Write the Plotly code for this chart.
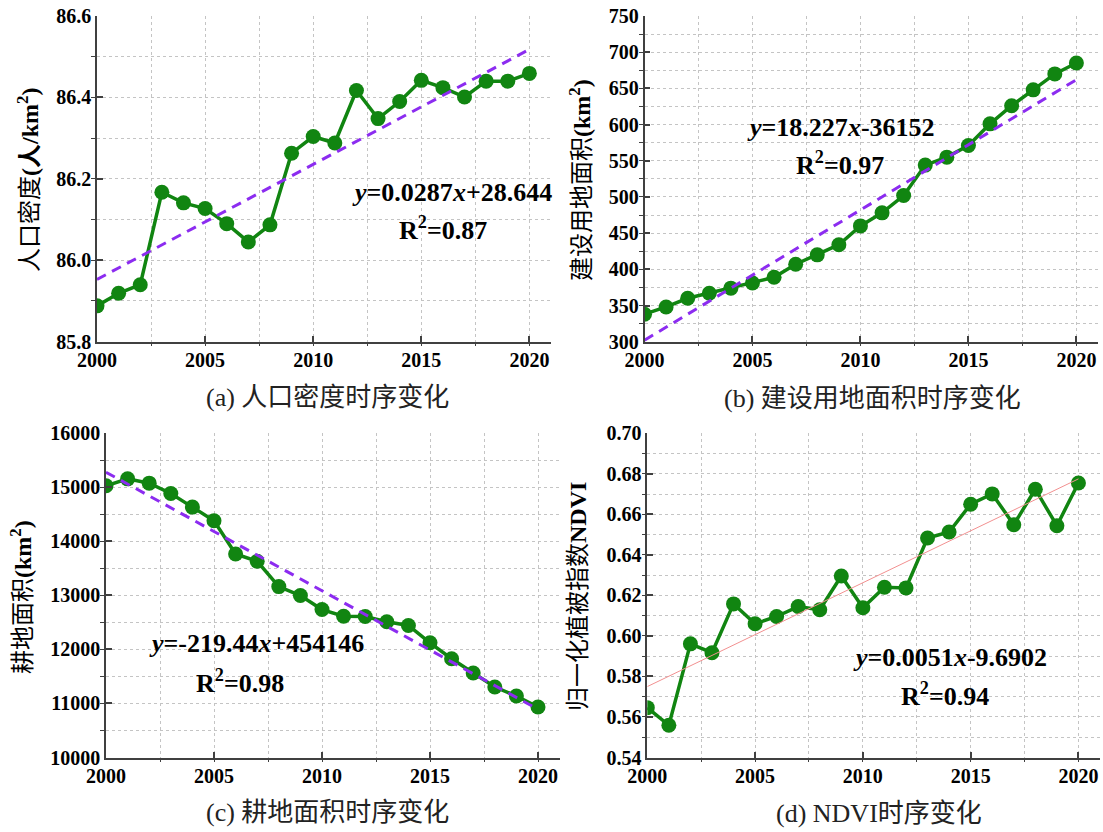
import plotly.graph_objects as go

W, H = 1103, 832

years = [2000, 2001, 2002, 2003, 2004, 2005, 2006, 2007, 2008, 2009, 2010,
         2011, 2012, 2013, 2014, 2015, 2016, 2017, 2018, 2019, 2020]
pop_density = [85.888, 85.919, 85.940, 86.167, 86.141, 86.127, 86.090, 86.045, 86.087, 86.263, 86.304,
               86.288, 86.417, 86.348, 86.390, 86.442, 86.424, 86.401, 86.440, 86.440, 86.459]
built_area = [338, 348, 360, 367, 374, 381, 389, 407, 420, 434, 460,
              478, 502, 544, 555, 571, 601, 626, 648, 670, 685]
farmland = [15028, 15157, 15077, 14886, 14634, 14382, 13766, 13631, 13163, 12997, 12738,
            12615, 12610, 12511, 12443, 12123, 11828, 11563, 11305, 11138, 10935]
ndvi = [0.5646, 0.5559, 0.5961, 0.5917, 0.6158, 0.6060, 0.6096, 0.6145, 0.6129, 0.6296, 0.6139,
        0.6240, 0.6237, 0.6483, 0.6513, 0.6650, 0.6701, 0.6549, 0.6724, 0.6544, 0.6755]

trend_years = [2000, 2020]
trend_pop = [85.953, 86.518]
trend_built = [302, 662]
trend_farm = [15280, 10892]
trend_ndvi = [0.575, 0.6775]

x_ticks = [2000, 2005, 2010, 2015, 2020]

y_titles = ["人口密度<b>(人/km<sup>2</sup>)</b>",
            "建设用地面积<b>(km<sup>2</sup>)</b>",
            "耕地面积<b>(km<sup>2</sup>)</b>",
            "归一化植被指数<b>NDVI</b>"]
captions = ["(a) 人口密度时序变化", "(b) 建设用地面积时序变化",
            "(c) 耕地面积时序变化", "(d) NDVI时序变化"]
equations = ["<b><i>y</i>=0.0287<i>x</i>+28.644</b>",
             "<b><i>y</i>=18.227<i>x</i>-36152</b>",
             "<b><i>y</i>=-219.44<i>x</i>+454146</b>",
             "<b><i>y</i>=0.0051<i>x</i>-9.6902</b>"]
r2_texts = ["<b>R<sup>2</sup>=0.87</b>", "<b>R<sup>2</sup>=0.97</b>",
            "<b>R<sup>2</sup>=0.98</b>", "<b>R<sup>2</sup>=0.94</b>"]

series = [pop_density, built_area, farmland, ndvi]
trends = [trend_pop, trend_built, trend_farm, trend_ndvi]

# layout (pixels in the 1103x832 window)
x_px = [(97, 551), (644.5, 1098), (106, 559.6), (647.3, 1100)]
y_px = [(16, 341.7), (16, 341.7), (433.3, 757.5), (433.3, 757.5)]
y_ranges = [(85.8, 86.6), (300, 750), (10000, 16000), (0.54, 0.70)]
y_dticks = [0.2, 50, 1000, 0.02]
y_formats = [".1f", "d", "d", ".2f"]
ytitle_pos = [(28, 180), (580, 180), (21, 597), (578, 597)]
caption_pos = [(327, 397), (872, 398), (327, 812), (879, 813)]
eq_pos = [(452, 192), (841, 127), (256, 643), (950, 657)]
r2_pos = [(443, 229), (840, 164), (240, 681), (945, 694)]

GREEN = "#118511"
PURPLE = "#8c2cf0"
AX = "#404040"
GRID = "#c4c4c4"
SERIF = "Liberation Serif, Noto Sans CJK SC"

def px(x):
    return x / W

def py(y):
    return 1 - y / H

fig = go.Figure()
layout = dict(width=W, height=H, margin=dict(l=0, r=0, t=0, b=0, pad=0),
              paper_bgcolor="white", plot_bgcolor="white", showlegend=False)
annotations = []

for i in range(4):
    k = "" if i == 0 else str(i + 1)
    xa, ya = "x" + k, "y" + k
    fig.add_trace(go.Scatter(x=years, y=series[i], mode="lines+markers",
                             line=dict(color=GREEN, width=3.5),
                             marker=dict(color=GREEN, size=15),
                             xaxis=xa, yaxis=ya))
    if i == 3:
        tl = dict(color="#f29090", width=1)
    else:
        tl = dict(color=PURPLE, width=3, dash="10px,7px")
    fig.add_trace(go.Scatter(x=trend_years, y=trends[i], mode="lines",
                             line=tl, xaxis=xa, yaxis=ya))

    common = dict(showline=True, linecolor=AX, linewidth=1.5, zeroline=False,
                  automargin=False,
                  showgrid=True, gridcolor=GRID, griddash="dot", gridwidth=1,
                  ticks="inside", ticklen=6, tickwidth=1.5, tickcolor=AX,
                  tickfont=dict(family="Liberation Serif", size=20, color="black", weight="bold"))
    layout["xaxis" + k] = dict(common, domain=[px(x_px[i][0]), px(x_px[i][1])],
                               anchor=ya, range=[2000, 2021], tickvals=x_ticks,
                               minor=dict(dtick=2.5, tick0=2000, showgrid=True, gridcolor=GRID,
                                          griddash="dot", ticks="outside", ticklen=3,
                                          tickcolor=AX, tickwidth=1.2))
    lo, hi = y_ranges[i]
    layout["yaxis" + k] = dict(common, domain=[py(y_px[i][1]), py(y_px[i][0])],
                               anchor=xa, range=[lo, hi], dtick=y_dticks[i], tick0=lo,
                               tickformat=y_formats[i],
                               minor=dict(dtick=y_dticks[i] / 2, tick0=lo, showgrid=True,
                                          gridcolor=GRID, griddash="dot", ticks="outside",
                                          ticklen=4, tickcolor=AX, tickwidth=1.2))

    annotations.append(dict(text=y_titles[i], x=px(ytitle_pos[i][0]), y=py(ytitle_pos[i][1]),
                            xref="paper", yref="paper", showarrow=False, textangle=-90,
                            xanchor="center", yanchor="middle",
                            font=dict(family=SERIF, size=24, color="black")))
    annotations.append(dict(text=captions[i], x=px(caption_pos[i][0]), y=py(caption_pos[i][1]),
                            xref="paper", yref="paper", showarrow=False,
                            xanchor="center", yanchor="middle",
                            font=dict(family=SERIF, size=26, color="#222222")))
    annotations.append(dict(text=equations[i], x=px(eq_pos[i][0]), y=py(eq_pos[i][1]),
                            xref="paper", yref="paper", showarrow=False,
                            xanchor="center", yanchor="middle",
                            font=dict(family="Liberation Serif", size=26, color="black")))
    annotations.append(dict(text=r2_texts[i], x=px(r2_pos[i][0]), y=py(r2_pos[i][1]),
                            xref="paper", yref="paper", showarrow=False,
                            xanchor="center", yanchor="middle",
                            font=dict(family="Liberation Serif", size=26, color="black")))

layout["annotations"] = annotations
fig.update_layout(**layout)
fig.write_html("out.html", config={"displayModeBar": False},
               post_script="document.body.style.margin='0';document.body.style.overflow='hidden';")
